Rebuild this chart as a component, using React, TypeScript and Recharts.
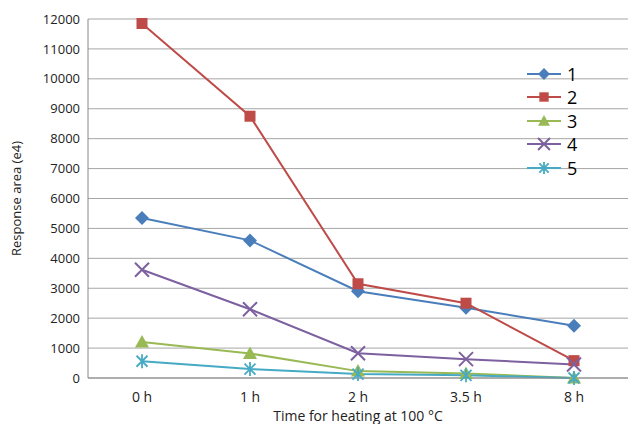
import React from "react";
import { LineChart, Line, XAxis, YAxis, CartesianGrid } from "recharts";

const categories = ["0 h", "1 h", "2 h", "3.5 h", "8 h"];
const s1 = [5350, 4600, 2900, 2350, 1750];
const s2 = [11850, 8750, 3150, 2500, 580];
const s3 = [1200, 820, 230, 150, 0];
const s4 = [3620, 2300, 830, 630, 450];
const s5 = [560, 300, 130, 90, 0];
const yTicks = [0, 1000, 2000, 3000, 4000, 5000, 6000, 7000, 8000, 9000, 10000, 11000, 12000];

const data = categories.map((c, i) => ({ c, s1: s1[i], s2: s2[i], s3: s3[i], s4: s4[i], s5: s5[i] }));

const series = [
  { key: "s1", name: "1", color: "#4a7ebb", shape: "diamond" },
  { key: "s2", name: "2", color: "#be4b48", shape: "square" },
  { key: "s3", name: "3", color: "#98b954", shape: "triangle" },
  { key: "s4", name: "4", color: "#7d60a0", shape: "x" },
  { key: "s5", name: "5", color: "#46aac5", shape: "star" },
];

function Marker({ cx, cy, color, shape, s = 1 }: any) {
  if (cx == null || cy == null) return null;
  const r = 7 * s;
  if (shape === "diamond")
    return <path d={`M${cx},${cy - r} L${cx + r},${cy} L${cx},${cy + r} L${cx - r},${cy} Z`} fill={color} />;
  if (shape === "square") return <rect x={cx - 5.5 * s} y={cy - 5.5 * s} width={11 * s} height={11 * s} fill={color} />;
  if (shape === "triangle")
    return <path d={`M${cx},${cy - r} L${cx + r},${cy + 5.5 * s} L${cx - r},${cy + 5.5 * s} Z`} fill={color} />;
  if (shape === "x")
    return (
      <path d={`M${cx - r},${cy - r} L${cx + r},${cy + r} M${cx - r},${cy + r} L${cx + r},${cy - r}`} stroke={color} strokeWidth={2} />
    );
  return (
    <path
      d={`M${cx - 5.5 * s},${cy - 5.5 * s} L${cx + 5.5 * s},${cy + 5.5 * s} M${cx - 5.5 * s},${cy + 5.5 * s} L${cx + 5.5 * s},${cy - 5.5 * s} M${cx},${cy - r} L${cx},${cy + r}`}
      stroke={color}
      strokeWidth={1.8}
    />
  );
}

const LegendBox = () => (
  <div style={{ position: "absolute", left: 527, top: 62, fontFamily: "Open Sans, sans-serif", fontSize: 18 }}>
    {series.map((s) => (
      <div key={s.key} style={{ display: "flex", alignItems: "center", height: 23.5 }}>
        <svg width={36} height={20}>
          <line x1={0} y1={10} x2={34} y2={10} stroke={s.color} strokeWidth={2} />
          <Marker cx={17} cy={10} color={s.color} shape={s.shape} s={0.85} />
        </svg>
        <span style={{ marginLeft: 4 }}>{s.name}</span>
      </div>
    ))}
  </div>
);

export default function App() {
  return (
    <div style={{ position: "relative", width: 636, height: 432, margin: -8 }}>
      <LineChart width={636} height={432} data={data} margin={{ top: 19, right: 8, bottom: 2, left: 14 }}
        style={{ fontFamily: "Open Sans, sans-serif" }}>
        <CartesianGrid vertical={false} stroke="#a6a6a6" />
        <XAxis dataKey="c" stroke="#888" tick={{ fill: "#222", fontSize: 14 }} tickLine={false} height={52}
          padding={{ left: 54, right: 54 }} tickMargin={8}
          label={{ value: "Time for heating at 100 °C", position: "insideBottom", offset: 9, fill: "#222", fontSize: 14 }} />
        <YAxis domain={[0, 12000]} ticks={yTicks} interval={0} stroke="#888" tick={{ fill: "#222", fontSize: 13 }} tickLine={false} width={74}
          label={{ value: "Response area (e4)", angle: -90, position: "insideLeft", offset: 0, dx: 2, dy: 0, fill: "#222", fontSize: 13, style: { textAnchor: "middle" } }} />
        {series.map((s) => (
          <Line key={s.key} dataKey={s.key} name={s.name} stroke={s.color} strokeWidth={2} isAnimationActive={false}
            dot={(p: any) => <Marker key={p.index} cx={p.cx} cy={p.cy} color={s.color} shape={s.shape} />} activeDot={false} />
        ))}
      </LineChart>
      <LegendBox />
    </div>
  );
}
